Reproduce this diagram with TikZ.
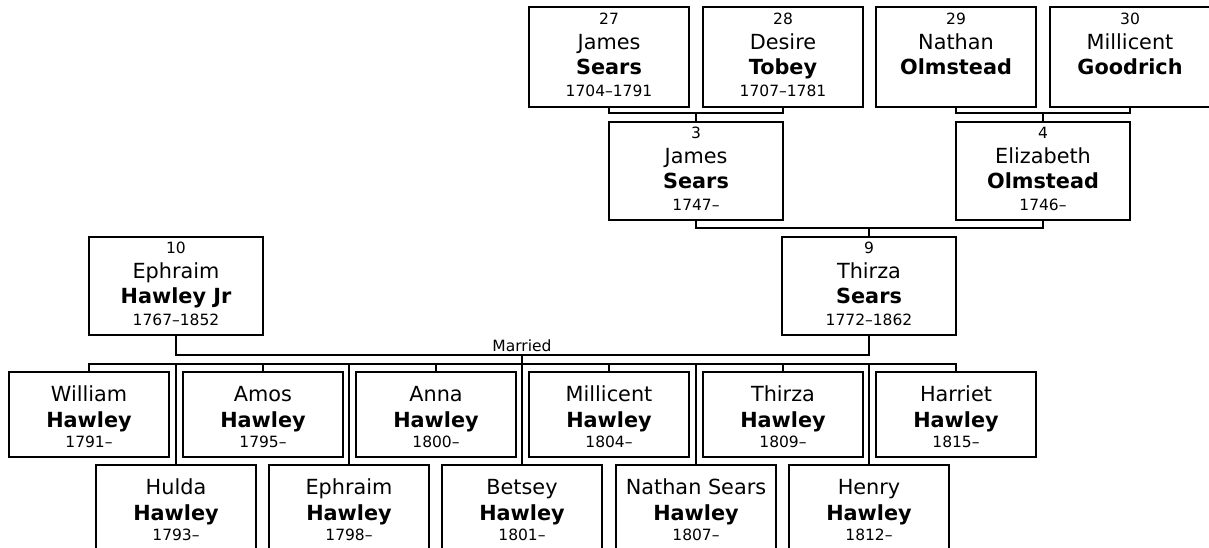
\documentclass[tikz,border=0pt]{standalone}
\usepackage{fontspec}
\setmainfont{DejaVu Sans}
\usetikzlibrary{calc}
\tikzset{
  pbox/.style={draw, line width=2pt, rectangle, inner sep=0pt},
  topbox/.style={pbox, minimum width=160pt, minimum height=100pt},
  ancbox/.style={pbox, minimum width=174pt, minimum height=98pt},
  kidbox/.style={pbox, minimum width=160pt, minimum height=85pt},
  conn/.style={line width=2pt},
  smtxt/.style={font=\fontsize{15.5}{18}\selectfont, anchor=base, inner sep=0pt},
  nmtxt/.style={font=\fontsize{20.8}{24}\selectfont, anchor=base, inner sep=0pt},
  bdtxt/.style={font=\fontsize{20.8}{24}\selectfont\bfseries, anchor=base, inner sep=0pt},
}
% #1 node name, #2 style, #3 position, #4 number, #5 first, #6 last, #7 years
\newcommand\ancperson[7]{%
  \node[#2] (#1) at (#3) {};
  \node[smtxt] (#1-n) at ($(#1.center)+(0,-32.5)$) {#4};
  \node[nmtxt] (#1-f) at ($(#1.center)+(0,-7.5)$) {#5};
  \node[bdtxt] (#1-l) at ($(#1.center)+(0,17.5)$) {#6};
  \node[smtxt] (#1-y) at ($(#1.center)+(0,39.5)$) {#7};
}
% #1 node name, #2 position, #3 first, #4 last, #5 years
\newcommand\kidperson[5]{%
  \node[kidbox] (#1) at (#2) {};
  \node[nmtxt] (#1-f) at ($(#1.center)+(0,-13.5)$) {#3};
  \node[bdtxt] (#1-l) at ($(#1.center)+(0,12.5)$) {#4};
  \node[smtxt] (#1-y) at ($(#1.center)+(0,32.5)$) {#5};
}
\begin{document}
\begin{tikzpicture}[x=1pt,y=-1pt]
\useasboundingbox (0,0) rectangle (1209,547);
\fill[white] (0,0) rectangle (1209,547);
\clip (0,0) rectangle (1209,547);

% great-grandparents
\ancperson{p27}{topbox}{609,57}{27}{James}{Sears}{1704–1791}
\ancperson{p28}{topbox}{783,57}{28}{Desire}{Tobey}{1707–1781}
\ancperson{p29}{topbox}{956,57}{29}{Nathan}{Olmstead}{}
\ancperson{p30}{topbox}{1130,57}{30}{Millicent}{Goodrich}{}

% grandparents
\ancperson{p3}{ancbox}{696,171}{3}{James}{Sears}{1747–}
\ancperson{p4}{ancbox}{1043,171}{4}{Elizabeth}{Olmstead}{1746–}

% parents
\ancperson{p10}{ancbox}{176,286}{10}{Ephraim}{Hawley Jr}{1767–1852}
\ancperson{p9}{ancbox}{869,286}{9}{Thirza}{Sears}{1772–1862}

% children, upper row
\kidperson{kWilliam}{89,414.5}{William}{Hawley}{1791–}
\kidperson{kAmos}{263,414.5}{Amos}{Hawley}{1795–}
\kidperson{kAnna}{436,414.5}{Anna}{Hawley}{1800–}
\kidperson{kMillicent}{609,414.5}{Millicent}{Hawley}{1804–}
\kidperson{kThirza}{783,414.5}{Thirza}{Hawley}{1809–}
\kidperson{kHarriet}{956,414.5}{Harriet}{Hawley}{1815–}

% children, lower row
\kidperson{kHulda}{176,507.5}{Hulda}{Hawley}{1793–}
\kidperson{kEphraim}{349,507.5}{Ephraim}{Hawley}{1798–}
\kidperson{kBetsey}{522,507.5}{Betsey}{Hawley}{1801–}
\kidperson{kNathan}{696,507.5}{Nathan Sears}{Hawley}{1807–}
\kidperson{kHenry}{869,507.5}{Henry}{Hawley}{1812–}

% junction points
\coordinate (f3) at (696,113);
\coordinate (f4) at (1043,113);
\coordinate (f9) at (869,228);
\coordinate (mar) at (522,355);
\coordinate (bus) at (522,364);

% connectors
\draw[conn] (p27.south) |- (f3) -| (p28.south);
\draw[conn] (f3) -- (p3.north);
\draw[conn] (p29.south) |- (f4) -| (p30.south);
\draw[conn] (f4) -- (p4.north);
\draw[conn] (p3.south) |- (f9) -| (p4.south);
\draw[conn] (f9) -- (p9.north);
\draw[conn] (p10.south) |- (mar) -| (p9.south);
\node[smtxt] (married) at (522,351) {Married};
\draw[conn] (mar) -- (kBetsey.north);
\draw[conn] (kWilliam.north) |- (bus) -| (kHarriet.north);
\foreach \k in {kAmos,kAnna,kMillicent,kThirza,kHulda,kEphraim,kNathan,kHenry}
  \draw[conn] (\k.north |- bus) -- (\k.north);
\end{tikzpicture}
\end{document}
